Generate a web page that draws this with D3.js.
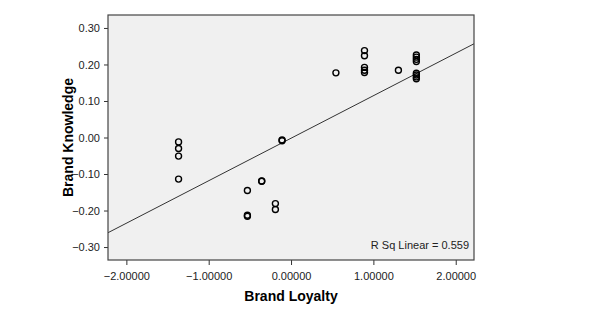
<!DOCTYPE html>
<html>
<head>
<meta charset="utf-8">
<script src="https://cdn.jsdelivr.net/npm/d3@7.9.0/dist/d3.min.js"></script>
<style>
  body { margin: 0; background: #fff; }
  svg text { font-family: Arial, "Liberation Sans", sans-serif; }
</style>
</head>
<body>
<svg id="chart" width="601" height="313"></svg>
<script>
// data
const loyalty = [
  -1.366, -1.366, -1.366, -1.366,
  -0.53, -0.53, -0.53,
  -0.356, -0.356,
  -0.19, -0.19,
  -0.109, -0.109,
  0.545,
  0.892, 0.892, 0.892, 0.892, 0.892,
  1.304,
  1.522, 1.522, 1.522, 1.522, 1.522, 1.522, 1.522, 1.522
];
const knowledge = [
  -0.012, -0.030, -0.051, -0.114,
  -0.145, -0.213, -0.216,
  -0.119, -0.120,
  -0.181, -0.197,
  -0.007, -0.009,
  0.177,
  0.238, 0.224, 0.192, 0.184, 0.178,
  0.184,
  0.226, 0.220, 0.214, 0.208, 0.176, 0.171, 0.166, 0.161
];
const xTicks = [-2, -1, 0, 1, 2];
const yTicks = [-0.3, -0.2, -0.1, 0, 0.1, 0.2, 0.3];
const fitSlope = 0.1164;
const fitIntercept = -0.002;
const rSquared = 0.559;

let svg = d3.select('#chart');
// plot box
let pLeft = 108, pRight = 474, pTop = 15, pBottom = 260;

let x = d3.scaleLinear().domain([-2.223, 2.222]).range([pLeft, pRight]);
let y = d3.scaleLinear().domain([-0.3355, 0.3355]).range([pBottom, pTop]);

// plot background
svg.append('rect')
  .attr('x', pLeft).attr('y', pTop)
  .attr('width', pRight - pLeft).attr('height', pBottom - pTop)
  .attr('fill', '#f0f0f0');

// axes
let xAxis = svg.append('g')
  .attr('transform', `translate(0,${pBottom})`)
  .call(d3.axisBottom(x).tickValues(xTicks).tickFormat(d3.format('.5f')).tickSizeOuter(0).tickSize(5));
let yAxis = svg.append('g')
  .attr('transform', `translate(${pLeft},0)`)
  .call(d3.axisLeft(y).tickValues(yTicks).tickFormat(d3.format('.2f')).tickSizeOuter(0).tickSize(4));

[xAxis, yAxis].forEach(g => {
  g.select('.domain').remove();
  g.selectAll('line').attr('stroke', '#333');
  g.selectAll('text').attr('font-size', 11).attr('fill', '#222');
});
xAxis.selectAll('text').attr('dy', '1.05em');
yAxis.selectAll('text').attr('dx', '-1px');

// regression line clipped to the plot
svg.append('clipPath').attr('id', 'clip')
  .append('rect').attr('x', pLeft).attr('y', pTop)
  .attr('width', pRight - pLeft).attr('height', pBottom - pTop);

let x0 = x.domain()[0], x1 = x.domain()[1];
svg.append('line')
  .attr('clip-path', 'url(#clip)')
  .attr('x1', x(x0)).attr('y1', y(fitIntercept + fitSlope * x0))
  .attr('x2', x(x1)).attr('y2', y(fitIntercept + fitSlope * x1))
  .attr('stroke', '#333').attr('stroke-width', 1);

// points
svg.append('g').selectAll('circle')
  .data(loyalty)
  .join('circle')
  .attr('cx', d => x(d))
  .attr('cy', (d, i) => y(knowledge[i]))
  .attr('r', 3)
  .attr('fill', 'none')
  .attr('stroke', '#000')
  .attr('stroke-width', 1.4);

// frame
svg.append('rect')
  .attr('x', pLeft).attr('y', pTop)
  .attr('width', pRight - pLeft).attr('height', pBottom - pTop)
  .attr('fill', 'none').attr('stroke', '#444').attr('stroke-width', 1.2);

// R squared note
svg.append('text')
  .attr('x', pRight - 5).attr('y', 249)
  .attr('text-anchor', 'end')
  .attr('font-size', 11).attr('fill', '#222')
  .text(`R Sq Linear = ${rSquared}`);

// axis titles
svg.append('text')
  .attr('x', (pLeft + pRight) / 2).attr('y', 301)
  .attr('text-anchor', 'middle')
  .attr('font-size', 14).attr('font-weight', 'bold')
  .text('Brand Loyalty');
svg.append('text')
  .attr('transform', `translate(73,${(pTop + pBottom) / 2}) rotate(-90)`)
  .attr('text-anchor', 'middle')
  .attr('font-size', 14).attr('font-weight', 'bold')
  .text('Brand Knowledge');
</script>
</body>
</html>
